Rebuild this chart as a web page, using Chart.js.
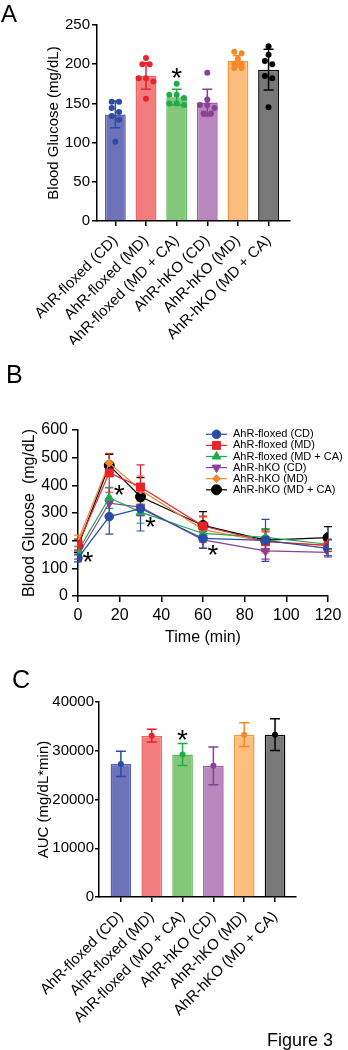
<!DOCTYPE html>
<html>
<head>
<meta charset="utf-8">
<script src="https://cdn.jsdelivr.net/npm/chart.js@4.4.0/dist/chart.umd.min.js"></script>
<style>
  html, body { margin: 0; padding: 0; background: #fff; }
  body { position: relative; width: 348px; height: 1050px; overflow: hidden; font-family: "Liberation Sans", Arial, sans-serif; }
  canvas { position: absolute; left: 0; }
  .tag { position: absolute; font-size: 25px; line-height: 1; color: #000; white-space: nowrap; }
</style>
</head>
<body>
<canvas id="chartA" width="348" height="345" style="top:0"></canvas>
<canvas id="chartB" width="348" height="300" style="top:350px"></canvas>
<canvas id="chartC" width="348" height="400" style="top:650px"></canvas>
<div class="tag" style="left:1px;top:2px;font-size:24px">A</div>
<div class="tag" style="left:6px;top:362px">B</div>
<div class="tag" style="left:12px;top:667px">C</div>
<div class="tag" style="left:267px;top:1031px;font-size:18px">Figure 3</div>

<script>
const groups = ['AhR-floxed (CD)', 'AhR-floxed (MD)', 'AhR-floxed (MD + CA)', 'AhR-hKO (CD)', 'AhR-hKO (MD)', 'AhR-hKO (MD + CA)'];

// fasting blood glucose, mg/dL (mean, SD, individual mice)
const fastMean = [136, 185, 158, 151, 204, 193];
const fastSd = [17, 17, 10, 17, 7, 26];
const dotsFloxedCD = [152, 152, 144, 139, 134, 129, 101];
const dotsFloxedMD = [208, 200, 200, 182, 182, 178, 156];
const dotsFloxedMDCA = [175, 161, 161, 157, 150, 150, 148];
const dotsHkoCD = [189, 155, 148, 148, 144, 137, 137];
const dotsHkoMD = [216, 214, 207, 201, 201, 195, 195];
const dotsHkoMDCA = [223, 212, 204, 200, 185, 182, 145];

// glucose tolerance test, mg/dL (mean and error per time point)
const gttTimes = [0, 15, 30, 60, 90, 120];
const gttFloxedCD = [137, 287, 316, 208, 201, 172];
const gttFloxedMD = [187, 445, 394, 253, 197, 183];
const gttFloxedMDCA = [163, 355, 303, 226, 212, 187];
const gttHkoCD = [148, 336, 321, 203, 163, 158];
const gttHkoMD = [200, 481, 383, 240, 196, 183];
const gttHkoMDCA = [180, 472, 359, 255, 202, 211];
const errFloxedCD = [14, 63, 81, 36, 76, 31];
const errFloxedMD = [20, 70, 80, 36, 35, 22];
const errFloxedMDCA = [15, 38, 40, 30, 30, 18];
const errHkoCD = [15, 55, 30, 30, 30, 12];
const errHkoMD = [20, 35, 50, 45, 40, 22];
const errHkoMDCA = [22, 40, 69, 50, 40, 40];
const starTimes = [0, 15, 30, 60];
const starLevels = [142, 383, 266, 166];

// area under the GTT curve, mg/dL*min
const aucMean = [27300, 33100, 29250, 26900, 33300, 33300];
const aucSem = [2600, 1300, 2250, 3850, 2450, 3250];

const barFills = ['#6e72b8', '#f27b7c', '#85c77a', '#b986bd', '#fcbe7c', '#787878'];
const barEdges = ['#5563b3', '#f06266', '#62bb5f', '#9e5ea9', '#f9963f', '#000000'];
const darkColors = ['#2a4ca4', '#e8232b', '#1fab4a', '#8a3f98', '#f7862d', '#000000'];
const markers = ['circle', 'rect', 'triangle', 'triangle', 'rectRot', 'circle'];
const markerTurn = [0, 0, 0, 180, 0, 0];
const markerSize = [4.3, 5.6, 5, 5, 4, 5];

const FONT = '"Liberation Sans", Arial, sans-serif';
Chart.defaults.font.family = FONT;
Chart.defaults.color = '#000';

const axisBorder = { display: true, color: '#000', width: 1.5 };
const axisGrid = (len) => ({ display: true, drawOnChartArea: false, drawTicks: true, tickLength: len, color: '#000', lineWidth: 1.5, offset: false });

// spread dots of similar value side by side, rows centred on the bar
function swarm(values, bin, step) {
  const sorted = values.map((v, i) => ({ v, i })).sort((a, b) => b.v - a.v);
  const offs = new Array(values.length).fill(0);
  let row = [];
  const flush = () => {
    row.forEach((p, k) => { offs[p.i] = (k - (row.length - 1) / 2) * step; });
    row = [];
  };
  sorted.forEach(p => {
    if (row.length && row[0].v - p.v > bin) flush();
    row.push(p);
  });
  flush();
  return offs;
}

function errorBar(ctx, x, yLo, yHi, cap, color, width) {
  ctx.save();
  ctx.strokeStyle = color;
  ctx.lineWidth = width;
  ctx.beginPath();
  ctx.moveTo(x, yLo); ctx.lineTo(x, yHi);
  ctx.moveTo(x - cap, yHi); ctx.lineTo(x + cap, yHi);
  ctx.moveTo(x - cap, yLo); ctx.lineTo(x + cap, yLo);
  ctx.stroke();
  ctx.restore();
}

function drawStar(ctx, x, y, px) {
  ctx.save();
  ctx.font = px + 'px ' + FONT;
  ctx.fillStyle = '#000';
  ctx.textAlign = 'left';
  ctx.textBaseline = 'alphabetic';
  const m = ctx.measureText('*');
  const w = m.actualBoundingBoxRight + m.actualBoundingBoxLeft;
  const h = m.actualBoundingBoxAscent + m.actualBoundingBoxDescent;
  ctx.fillText('*', x - w / 2 + m.actualBoundingBoxLeft, y + h / 2 - m.actualBoundingBoxDescent);
  ctx.restore();
}

// error bars drawn right after the bars, below the dots
function barErrors(means, errs) {
  return {
    id: 'barErrors',
    afterDatasetDraw(chart, args) {
      if (args.meta.type !== 'bar') return;
      const { x, y } = chart.scales;
      means.forEach((m, i) => {
        errorBar(chart.ctx, x.getPixelForValue(i), y.getPixelForValue(m - errs[i]),
          y.getPixelForValue(m + errs[i]), 5, darkColors[i], 1.5);
      });
    }
  };
}

function starAbove(index, value, lift) {
  return {
    id: 'starAbove',
    afterDraw(chart) {
      const { x, y } = chart.scales;
      drawStar(chart.ctx, x.getPixelForValue(index), y.getPixelForValue(value) - lift, 28);
    }
  };
}

function groupAxis(min, max, height) {
  return {
    type: 'linear', min, max, offset: false,
    afterBuildTicks: s => { s.ticks = groups.map((g, i) => ({ value: i })); },
    ticks: { autoSkip: false, minRotation: 45, maxRotation: 45, padding: 6, font: { size: 15 }, callback: v => groups[v] },
    grid: axisGrid(5), border: axisBorder,
    afterFit: s => { s.height = height; }
  };
}

// ---- A: fasting glucose ----
const dotSets = [dotsFloxedCD, dotsFloxedMD, dotsFloxedMDCA, dotsHkoCD, dotsHkoMD, dotsHkoMDCA];
const dotPoints = [];
const dotColors = [];
dotSets.forEach((vals, g) => {
  swarm(vals, 5, 0.24).forEach((o, k) => {
    dotPoints.push({ x: g + o, y: vals[k] });
    dotColors.push(darkColors[g]);
  });
});

new Chart(document.getElementById('chartA'), {
  type: 'bar',
  data: {
    datasets: [
      {
        type: 'bar', order: 2,
        data: fastMean.map((v, i) => ({ x: i, y: v })),
        backgroundColor: barFills, borderColor: barEdges, borderWidth: 1.5,
        barPercentage: 0.68, categoryPercentage: 1
      },
      {
        type: 'scatter', order: 1,
        data: dotPoints,
        pointBackgroundColor: dotColors, pointBorderWidth: 0, pointRadius: 3
      }
    ]
  },
  options: {
    responsive: false, animation: false, devicePixelRatio: 1,
    layout: { padding: { left: 0, top: 25, right: 58, bottom: 0 } },
    plugins: { legend: { display: false }, tooltip: { enabled: false } },
    scales: {
      x: groupAxis(-0.6, 5.7, 124),
      y: {
        min: 0, max: 250,
        ticks: { stepSize: 50, padding: 2, font: { size: 15 } },
        grid: axisGrid(5), border: axisBorder,
        title: { display: true, text: 'Blood Glucose (mg/dL)', font: { size: 15 }, padding: { top: 45, bottom: 0 } },
        afterFit: s => { s.width = 97; }
      }
    }
  },
  plugins: [barErrors(fastMean, fastSd), starAbove(2, Math.max(...dotsFloxedMDCA), 11)]
});

// ---- B: glucose tolerance test ----
const gttSeries = [gttFloxedCD, gttFloxedMD, gttFloxedMDCA, gttHkoCD, gttHkoMD, gttHkoMDCA];
const gttErrors = [errFloxedCD, errFloxedMD, errFloxedMDCA, errHkoCD, errHkoMD, errHkoMDCA];

const gttErrorBars = {
  id: 'gttErrorBars',
  beforeDatasetsDraw(chart) {
    const { x, y } = chart.scales;
    for (let i = gttSeries.length - 1; i >= 0; i--) {
      gttSeries[i].forEach((v, k) => {
        errorBar(chart.ctx, x.getPixelForValue(gttTimes[k]), y.getPixelForValue(v - gttErrors[i][k]),
          y.getPixelForValue(v + gttErrors[i][k]), 4, darkColors[i], 1.2);
      });
    }
  }
};

const gttStars = {
  id: 'gttStars',
  afterDraw(chart) {
    const { x, y } = chart.scales;
    starTimes.forEach((t, i) => drawStar(chart.ctx, x.getPixelForValue(t) + 10, y.getPixelForValue(starLevels[i]), 28));
  }
};

const gttLegend = {
  id: 'gttLegend',
  afterDraw(chart) {
    const ctx = chart.ctx;
    const area = chart.chartArea;
    const x0 = area.right - 122, x1 = area.right - 101, tx = area.right - 95;
    chart.data.datasets.forEach((ds, i) => {
      const yy = area.top + 4.3 + i * 11.1;
      ctx.save();
      ctx.strokeStyle = ds.borderColor;
      ctx.lineWidth = 1.2;
      ctx.beginPath(); ctx.moveTo(x0, yy); ctx.lineTo(x1, yy); ctx.stroke();
      ctx.fillStyle = ds.pointBackgroundColor;
      ctx.strokeStyle = ds.pointBorderColor;
      ctx.lineWidth = 1;
      Chart.helpers.drawPoint(ctx, { pointStyle: ds.pointStyle, rotation: ds.pointRotation, radius: ds.pointRadius, borderWidth: 1 }, (x0 + x1) / 2, yy);
      ctx.fillStyle = '#000';
      ctx.font = '11px ' + FONT;
      ctx.textBaseline = 'middle';
      ctx.fillText(ds.label, tx, yy);
      ctx.restore();
    });
  }
};

new Chart(document.getElementById('chartB'), {
  type: 'line',
  data: {
    datasets: gttSeries.map((s, i) => ({
      label: groups[i],
      data: gttTimes.map((t, k) => ({ x: t, y: s[k] })),
      borderColor: darkColors[i], backgroundColor: darkColors[i],
      pointBackgroundColor: darkColors[i], pointBorderColor: darkColors[i],
      pointStyle: markers[i], pointRotation: markerTurn[i], pointRadius: markerSize[i],
      pointBorderWidth: 1, borderWidth: 1.2, tension: 0
    }))
  },
  options: {
    responsive: false, animation: false, devicePixelRatio: 1,
    layout: { padding: { left: 0, top: 80, right: 20, bottom: 0 } },
    plugins: { legend: { display: false }, tooltip: { enabled: false } },
    scales: {
      x: {
        type: 'linear', min: 0, max: 120,
        ticks: { stepSize: 20, padding: 4, maxRotation: 0, font: { size: 16 } },
        grid: axisGrid(6), border: axisBorder,
        title: { display: true, text: 'Time (min)', font: { size: 16 }, padding: { top: 0, bottom: 3 } },
        afterFit: s => { s.height = 54; }
      },
      y: {
        min: 0, max: 600,
        ticks: { stepSize: 100, padding: 4, font: { size: 16 } },
        grid: axisGrid(6), border: axisBorder,
        title: { display: true, text: 'Blood Glucose  (mg/dL)', font: { size: 16 }, padding: { top: 20, bottom: 0 } },
        afterFit: s => { s.width = 78; }
      }
    }
  },
  plugins: [gttErrorBars, gttStars, gttLegend]
});

// ---- C: AUC ----
new Chart(document.getElementById('chartC'), {
  type: 'bar',
  data: {
    datasets: [
      {
        type: 'bar', order: 2,
        data: aucMean.map((v, i) => ({ x: i, y: v })),
        backgroundColor: barFills, borderColor: barEdges, borderWidth: 1.5,
        barPercentage: 0.67, categoryPercentage: 1
      },
      {
        type: 'scatter', order: 1,
        data: aucMean.map((v, i) => ({ x: i, y: v })),
        pointBackgroundColor: darkColors, pointBorderWidth: 0, pointRadius: 3
      }
    ]
  },
  options: {
    responsive: false, animation: false, devicePixelRatio: 1,
    layout: { padding: { left: 0, top: 52, right: 52, bottom: 0 } },
    plugins: { legend: { display: false }, tooltip: { enabled: false } },
    scales: {
      x: groupAxis(-0.71, 5.68, 153),
      y: {
        min: 0, max: 40000,
        ticks: { stepSize: 10000, padding: 1, font: { size: 15 }, callback: v => String(v) },
        grid: axisGrid(4), border: axisBorder,
        title: { display: true, text: 'AUC (mg/dL*min)', font: { size: 15 }, padding: { top: 35, bottom: 0 } },
        afterFit: s => { s.width = 99; }
      }
    }
  },
  plugins: [barErrors(aucMean, aucSem), starAbove(2, aucMean[2] + aucSem[2], 8)]
});
</script>
</body>
</html>
